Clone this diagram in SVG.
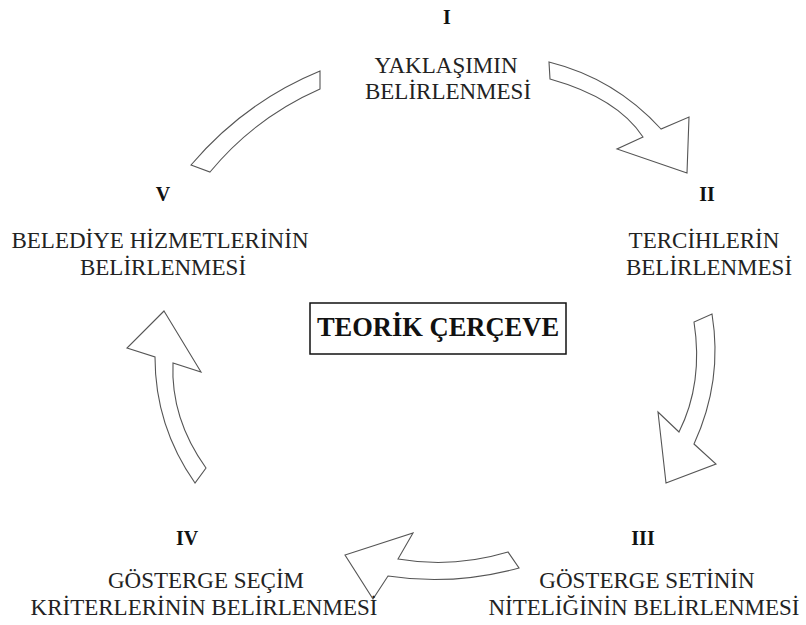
<svg xmlns="http://www.w3.org/2000/svg" width="806" height="625" viewBox="0 0 806 625">
<style>
.t{font-family:"Liberation Serif","Times New Roman",serif;font-size:23px;fill:#222;text-anchor:middle}
.n{font-family:"Liberation Serif","Times New Roman",serif;font-size:20px;font-weight:bold;fill:#111;text-anchor:middle}
.a{fill:#fff;stroke:#555;stroke-width:1.1;stroke-linejoin:miter}
</style>
<rect width="806" height="625" fill="#fff"/>
<g id="connectors">
<path id="arrow-I-II" class="a" d="M549,62 Q615,78.5 661,129 L689,117 L687,173 L617,149 L643,137 Q617.5,98 550,79 Z"/>
<path id="arrow-II-III" class="a" d="M712,314 Q723,381 694,444 L716,464 L666,483 L658,412 L679,432 Q703.5,383 694,322 Z"/>
<path id="arrow-III-IV" class="a" d="M508,552 Q453,568.5 398,559 L413,533 L345,555 L373,599 L388,576 Q452.5,586 519,568 Z"/>
<path id="arrow-IV-V" class="a" d="M164,311 L201,372 L173,363 Q170.5,418.5 206,468 L195,483 Q155,426 155,357 L127,348 Z"/>
<path id="arrow-V-I" class="a" d="M320,71 Q244.5,102 191,165 L210,172 Q255,117.5 320,89 Z"/>
</g>
<g id="node-I">
<text class="n" x="447" y="24">I</text>
<text class="t" x="446" y="73">YAKLAŞIMIN</text>
<text class="t" x="448" y="99">BELİRLENMESİ</text>
</g>
<g id="node-II">
<text class="n" x="707" y="201">II</text>
<text class="t" x="704" y="248">TERCİHLERİN</text>
<text class="t" x="709" y="275">BELİRLENMESİ</text>
</g>
<g id="node-III">
<text class="n" x="643" y="545">III</text>
<text class="t" x="647" y="588">GÖSTERGE SETİNİN</text>
<text class="t" x="644" y="615">NİTELİĞİNİN BELİRLENMESİ</text>
</g>
<g id="node-IV">
<text class="n" x="187" y="545">IV</text>
<text class="t" x="206" y="588">GÖSTERGE SEÇİM</text>
<text class="t" x="204" y="615">KRİTERLERİNİN BELİRLENMESİ</text>
</g>
<g id="node-V">
<text class="n" x="163" y="201">V</text>
<text class="t" x="160" y="248">BELEDİYE HİZMETLERİNİN</text>
<text class="t" x="163" y="275">BELİRLENMESİ</text>
</g>
<g id="center">
<rect x="310" y="303" width="256" height="51" fill="#fff" stroke="#111" stroke-width="1.5"/>
<text x="438" y="336" font-family="Liberation Serif, Times New Roman, serif" font-size="26.5" font-weight="bold" fill="#111" text-anchor="middle">TEORİK ÇERÇEVE</text>
</g>
</svg>
